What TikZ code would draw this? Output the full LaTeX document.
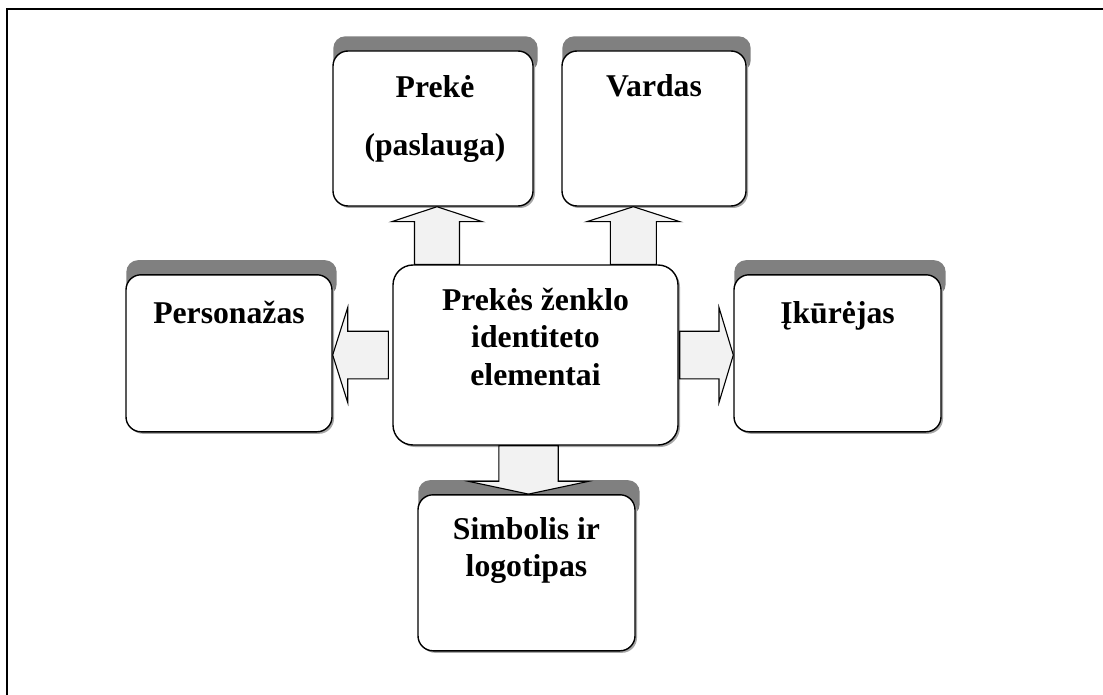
\documentclass[tikz,border=0pt]{standalone}
\usepackage{fontspec}
\setmainfont{Liberation Serif}
\usetikzlibrary{calc,shadows,backgrounds}

\definecolor{bandgray}{HTML}{808080}
\definecolor{arrowfill}{HTML}{F2F2F2}
\definecolor{softshadow}{HTML}{A6A6A6}

\tikzset{
  box/.style={draw=black, line width=1.4pt, fill=white, rounded corners=15pt,
    inner sep=0pt,
    drop shadow={shadow xshift=2pt, shadow yshift=-2pt, fill=softshadow, opacity=1}},
  band/.style={fill=bandgray, rounded corners=12pt},
  barrow/.style={draw=black, line width=1.1pt, fill=arrowfill, line join=miter},
  lbl/.style={font=\fontsize{31.7}{37.5}\selectfont\bfseries, align=center,
    inner sep=0pt, anchor=base},
}

% block arrow: #1 base centre, #2 tip, #3 half shaft width, #4 half head width, #5 head length
\newcommand\blockarrow[5]{%
  \coordinate (bah) at ($(#2)!#5!(#1)$);
  \draw[barrow] ($(#1)!#3!90:(#2)$) -- ($(bah)!#3!90:(#2)$) -- ($(bah)!#4!90:(#2)$)
    -- (#2) -- ($(bah)!#4!-90:(#2)$) -- ($(bah)!#3!-90:(#2)$) -- ($(#1)!#3!-90:(#2)$) -- cycle;}

\begin{document}
\begin{tikzpicture}[x=1pt, y=-1pt]
  \useasboundingbox (0,0) rectangle (1103,695);

  % frame
  \draw[line width=2pt] (7,695) -- (7,9) -- (1103,9);

  % boxes
  \node[box, minimum width=200pt, minimum height=155pt] (pb) at (433,128.5) {};
  \node[box, minimum width=184pt, minimum height=155pt] (vd) at (654,128.5) {};
  \node[box, minimum width=285pt, minimum height=180pt, rounded corners=20pt] (c) at (535.5,355) {};
  \node[box, minimum width=206pt, minimum height=157pt] (per) at (229,353.3) {};
  \node[box, minimum width=207pt, minimum height=157pt] (ik) at (837.5,353.3) {};
  \node[box, minimum width=217pt, minimum height=156pt] (sim) at (526.5,572.8) {};

  % grey tabs behind the outer boxes
  \begin{scope}[on background layer]
    \foreach \n in {pb,vd,per,ik,sim}
      \fill[band] ([xshift=1pt,yshift=14pt]\n.north west) rectangle ([xshift=4pt,yshift=-22pt]\n.north east);
  \end{scope}

  % labels (base anchor = baseline of the last line)
  \node[lbl] (tpb) at (435,155.5) {Prekė\\[20pt](paslauga)};
  \node[lbl] (tvd) at (654,97) {Vardas};
  \node[lbl] (tc) at (535.5,385) {Prekės ženklo\\identiteto\\elementai};
  \node[lbl] (tper) at (229,323) {Personažas};
  \node[lbl] (tik) at (837.5,323) {Įkūrėjas};
  \node[lbl] (tsim) at (526.5,576.7) {Simbolis ir\\logotipas};

  % arrows from the central box
  \coordinate (a1t) at ([xshift=4pt]pb.south);
  \coordinate (a1b) at (a1t |- c.north);
  \blockarrow{a1b}{a1t}{22.5pt}{45.3pt}{15pt}

  \coordinate (a2t) at ([xshift=-20.7pt]vd.south);
  \coordinate (a2b) at (a2t |- c.north);
  \blockarrow{a2b}{a2t}{23pt}{46.5pt}{15pt}

  \coordinate (a3b) at ([xshift=-4pt]c.west);
  \coordinate (a3t) at (a3b -| per.east);
  \blockarrow{a3b}{a3t}{23.8pt}{47.5pt}{15pt}

  \coordinate (a4b) at ([xshift=1pt]c.east);
  \coordinate (a4t) at (a4b -| ik.west);
  \blockarrow{a4b}{a4t}{23.8pt}{47.5pt}{14.3pt}

  \coordinate (a5t) at ([xshift=2pt]sim.north);
  \coordinate (a5b) at (a5t |- c.south);
  \blockarrow{a5b}{a5t}{29.7pt}{59.7pt}{12.7pt}
\end{tikzpicture}
\end{document}
